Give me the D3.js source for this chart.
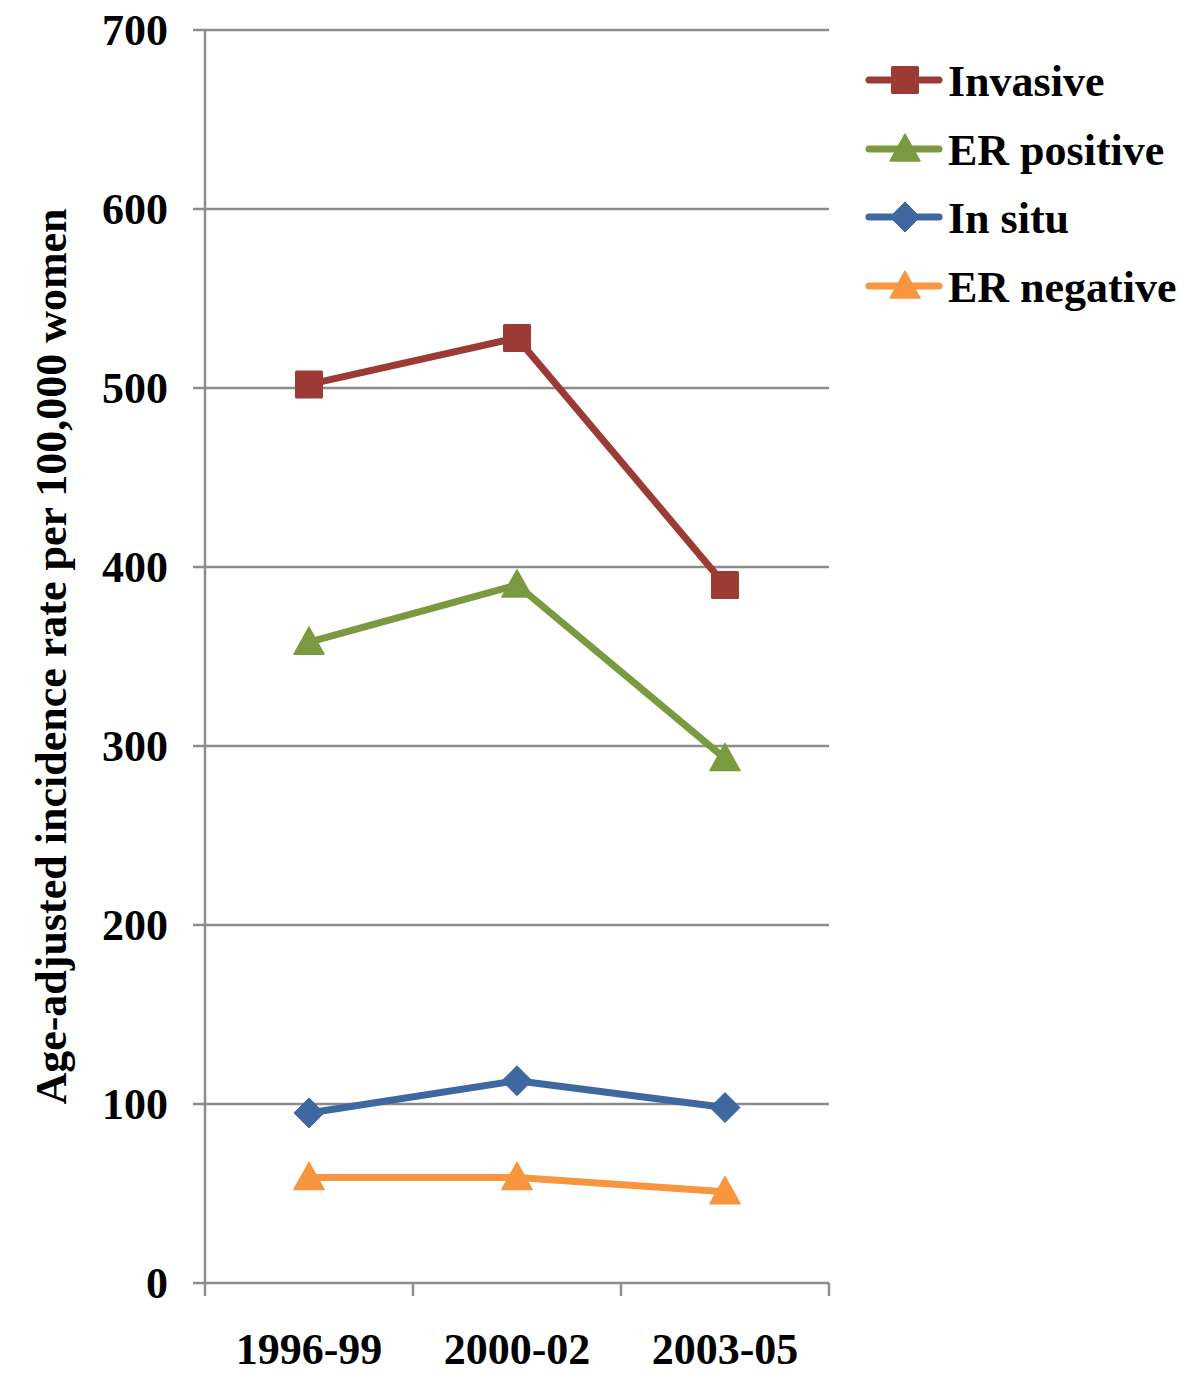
<!DOCTYPE html>
<html><head><meta charset="utf-8">
<script src="https://cdn.jsdelivr.net/npm/d3@7"></script>
<style>body{margin:0;background:#fff}</style>
</head><body>
<svg id="c" width="1200" height="1395"></svg>
<script>
const categories = ["1996-99", "2000-02", "2003-05"];
const seriesNames = ["Invasive", "ER positive", "In situ", "ER negative"];
const invasive = [502, 528, 390];
const erPositive = [358, 390, 293];
const inSitu = [95, 113, 98];
const erNegative = [59, 59, 51];
const yTicks = [0, 100, 200, 300, 400, 500, 600, 700];
const yLabel = "Age-adjusted incidence rate per 100,000 women";

const colors = ["#9c3a36", "#7a9a3f", "#3e689f", "#f7963f"];
const shapes = ["square", "triangle", "diamond", "triangle"];
const series = [invasive, erPositive, inSitu, erNegative].map((v, i) => ({name: seriesNames[i], values: v, color: colors[i], shape: shapes[i]}));

const svg = d3.select("#c");
const font = "'Liberation Serif','Times New Roman',serif";
const L = 205, R = 829, T = 30, B = 1283;
const x = d3.scaleBand().domain(categories).range([L, R]);
const y = d3.scaleLinear().domain([0, 700]).range([B, T]);
const grid = "#8c8c8c";

// gridlines
svg.append("g").selectAll("line").data(yTicks).join("line")
  .attr("x1", L - 12).attr("x2", R).attr("y1", d => y(d)).attr("y2", d => y(d))
  .attr("stroke", grid).attr("stroke-width", 2.5);
// y axis line
svg.append("line").attr("x1", L).attr("x2", L).attr("y1", T).attr("y2", B)
  .attr("stroke", grid).attr("stroke-width", 2.5);
// x ticks
const xb = [...categories.map(c => x(c)), R];
svg.append("g").selectAll("line").data(xb).join("line")
  .attr("x1", d => d).attr("x2", d => d).attr("y1", B).attr("y2", B + 13)
  .attr("stroke", grid).attr("stroke-width", 2.5);

// y tick labels
svg.append("g").selectAll("text").data(yTicks).join("text")
  .attr("x", 168).attr("y", d => y(d) + 15).attr("text-anchor", "end")
  .attr("font-family", font).attr("font-weight", "bold").attr("font-size", 44)
  .text(d => d);
// x tick labels
svg.append("g").selectAll("text").data(categories).join("text")
  .attr("x", d => x(d) + x.bandwidth() / 2).attr("y", 1364).attr("text-anchor", "middle")
  .attr("font-family", font).attr("font-weight", "bold").attr("font-size", 44)
  .text(d => d);
// y label
svg.append("text").attr("transform", "translate(66," + ((T + B) / 2) + ") rotate(-90)")
  .attr("text-anchor", "middle").attr("font-family", font).attr("font-weight", "bold")
  .attr("font-size", 44).text(yLabel);

function marker(g, shape, color) {
  if (shape === "square") {
    g.append("rect").attr("x", -14).attr("y", -14).attr("width", 28).attr("height", 28).attr("rx", 1.5).attr("fill", color);
  } else if (shape === "triangle") {
    g.append("path").attr("d", "M0,-15 L15,12 L-15,12 Z").attr("fill", color).attr("stroke", color).attr("stroke-width", 1.5).attr("stroke-linejoin", "round");
  } else {
    g.append("path").attr("d", "M0,-15 L15,0 L0,15 L-15,0 Z").attr("fill", color).attr("stroke", color).attr("stroke-width", 1).attr("stroke-linejoin", "round");
  }
}

const line = d3.line().x((d, i) => x(categories[i]) + x.bandwidth() / 2).y(d => y(d));
series.slice().reverse().forEach(s => {
  const g = svg.append("g");
  g.append("path").attr("d", line(s.values)).attr("fill", "none")
    .attr("stroke", s.color).attr("stroke-width", 7).attr("stroke-linejoin", "round").attr("stroke-linecap", "round");
  s.values.forEach((v, i) => {
    const m = g.append("g").attr("transform", `translate(${x(categories[i]) + x.bandwidth() / 2},${y(v)})`);
    marker(m, s.shape, s.color);
  });
});

// legend
const legY = [80, 149, 217, 286];
series.forEach((s, i) => {
  const g = svg.append("g").attr("transform", `translate(0,${legY[i]})`);
  g.append("line").attr("x1", 869).attr("x2", 939).attr("y1", 0).attr("y2", 0)
    .attr("stroke", s.color).attr("stroke-width", 7).attr("stroke-linecap", "round");
  const m = g.append("g").attr("transform", "translate(905,0)");
  marker(m, s.shape, s.color);
  g.append("text").attr("x", 948).attr("y", 16).attr("font-family", font).attr("font-weight", "bold")
    .attr("font-size", 44).text(s.name);
});
</script>
</body></html>
